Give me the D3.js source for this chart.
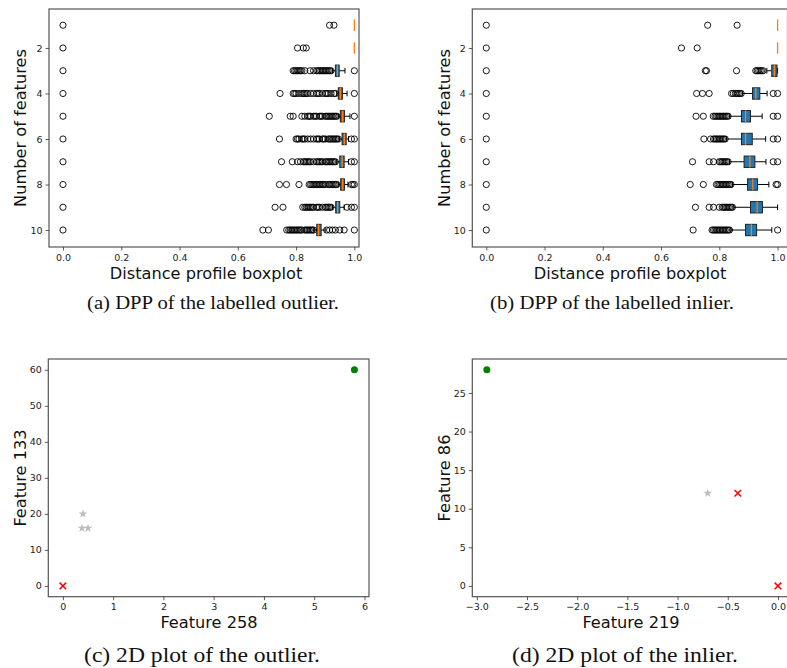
<!DOCTYPE html>
<html lang="en">
<head>
    <meta charset="UTF-8">
    <title>Distance profile plots</title>
    <style>
        body { margin: 0; background: #fff; }
        svg { display: block; }
    </style>
</head>
<body>
    <svg width="787" height="668"></svg>

    <script src="https://d3js.org/d3.v7.min.js"></script>
    <script>
        // ---- data ----
        var featureCounts = [1, 2, 3, 4, 5, 6, 7, 8, 9, 10];

        // (a) labelled outlier: whisker low, q1, median, q3, whisker high per row
        var outLo  = [1, 1, 0.925, 0.940, 0.945, 0.948, 0.940, 0.945, 0.925, 0.862];
        var outQ1  = [1, 1, 0.935, 0.945, 0.952, 0.958, 0.950, 0.953, 0.936, 0.871];
        var outMed = [1, 1, 0.942, 0.952, 0.960, 0.966, 0.958, 0.960, 0.943, 0.877];
        var outQ3  = [1, 1, 0.948, 0.959, 0.966, 0.972, 0.965, 0.966, 0.950, 0.886];
        var outHi  = [1, 1, 0.968, 0.975, 0.985, 0.980, 0.980, 0.978, 0.965, 0.900];
        var outFliers = [
            [0, 0.915, 0.930],
            [0, 0.805, 0.825, 0.835],
            [0, 0.790, 0.795, 0.800, 0.805, 0.810, 0.815, 0.820, 0.830, 0.848, 0.860, 0.870, 0.875, 0.880, 0.885, 0.890, 0.895, 0.900, 0.905, 0.910, 0.915, 0.920, 1.0],
            [0, 0.745, 0.790, 0.795, 0.800, 0.810, 0.820, 0.825, 0.830, 0.835, 0.840, 0.850, 0.860, 0.870, 0.875, 0.880, 0.890, 0.900, 0.905, 0.910, 0.920, 0.930, 0.935, 1.0],
            [0, 0.708, 0.780, 0.790, 0.820, 0.830, 0.840, 0.845, 0.850, 0.860, 0.865, 0.870, 0.880, 0.885, 0.890, 0.900, 0.905, 0.910, 0.915, 0.920, 0.925, 0.930, 0.935, 0.940, 1.0],
            [0, 0.743, 0.800, 0.805, 0.810, 0.820, 0.825, 0.830, 0.840, 0.850, 0.860, 0.870, 0.875, 0.880, 0.890, 0.895, 0.900, 0.910, 0.915, 0.920, 0.925, 0.930, 0.935, 0.940, 0.945, 0.990, 1.0],
            [0, 0.750, 0.787, 0.805, 0.815, 0.825, 0.830, 0.835, 0.840, 0.845, 0.850, 0.860, 0.870, 0.875, 0.880, 0.885, 0.890, 0.900, 0.905, 0.910, 0.915, 0.920, 0.925, 0.930, 0.935, 0.990, 1.0],
            [0, 0.743, 0.767, 0.810, 0.845, 0.850, 0.855, 0.860, 0.865, 0.870, 0.875, 0.880, 0.885, 0.890, 0.895, 0.900, 0.910, 0.915, 0.920, 0.925, 0.930, 0.935, 0.940, 0.990, 0.995, 1.0],
            [0, 0.728, 0.755, 0.823, 0.830, 0.835, 0.840, 0.845, 0.850, 0.855, 0.860, 0.870, 0.875, 0.880, 0.890, 0.900, 0.905, 0.910, 0.915, 0.920, 0.975, 0.990, 1.0],
            [0, 0.686, 0.705, 0.768, 0.775, 0.780, 0.785, 0.790, 0.795, 0.800, 0.805, 0.810, 0.815, 0.820, 0.830, 0.835, 0.840, 0.845, 0.850, 0.855, 0.860, 0.905, 0.915, 0.925, 0.935, 0.950, 0.965, 1.0]
        ];

        // (b) labelled inlier
        var inLo  = [1, 1, 0.963, 0.880, 0.836, 0.825, 0.835, 0.845, 0.850, 0.840];
        var inQ1  = [1, 1, 0.980, 0.914, 0.876, 0.876, 0.885, 0.897, 0.907, 0.890];
        var inMed = [1, 1, 0.989, 0.925, 0.890, 0.890, 0.905, 0.915, 0.930, 0.910];
        var inQ3  = [1, 1, 0.998, 0.939, 0.907, 0.913, 0.922, 0.931, 0.948, 0.928];
        var inHi  = [1, 1, 1.000, 0.964, 0.947, 0.959, 0.960, 0.970, 1.000, 0.980];
        var inFliers = [
            [0, 0.760, 0.861],
            [0, 0.670, 0.724],
            [0, 0.752, 0.756, 0.859, 0.925, 0.930, 0.935, 0.940, 0.945, 0.950],
            [0, 0.722, 0.742, 0.765, 0.842, 0.848, 0.855, 0.860, 0.865, 0.870, 0.875, 0.985, 1.0],
            [0, 0.720, 0.745, 0.779, 0.785, 0.790, 0.795, 0.800, 0.805, 0.810, 0.815, 0.820, 0.825, 0.830, 0.985, 1.0],
            [0, 0.747, 0.770, 0.780, 0.785, 0.790, 0.795, 0.800, 0.805, 0.810, 0.815, 0.820, 0.985, 1.0],
            [0, 0.708, 0.765, 0.780, 0.800, 0.805, 0.810, 0.815, 0.820, 0.825, 0.830, 0.985, 1.0],
            [0, 0.700, 0.745, 0.790, 0.795, 0.800, 0.805, 0.810, 0.815, 0.820, 0.825, 0.830, 0.835, 0.840, 0.995, 1.0],
            [0, 0.718, 0.765, 0.780, 0.800, 0.810, 0.815, 0.820, 0.825, 0.830, 0.835, 0.840, 0.845],
            [0, 0.710, 0.775, 0.780, 0.785, 0.790, 0.795, 0.800, 0.805, 0.810, 0.815, 0.820, 0.825, 0.830, 0.835, 1.0]
        ];

        var dppTicksX = [0, 0.2, 0.4, 0.6, 0.8, 1.0];
        var dppTicksY = [2, 4, 6, 8, 10];

        // (c) 2D plot of the outlier
        var cGreenX = [5.8], cGreenY = [60];
        var cStarX = [0.40, 0.38, 0.50], cStarY = [20, 16, 16];
        var cCrossX = [0], cCrossY = [0];
        var cTicksX = [0, 1, 2, 3, 4, 5, 6];
        var cTicksY = [0, 10, 20, 30, 40, 50, 60];

        // (d) 2D plot of the inlier
        var dGreenX = [-2.9], dGreenY = [28];
        var dStarX = [-0.7], dStarY = [12];
        var dCrossX = [-0.4, 0], dCrossY = [12, 0];
        var dTicksX = [-3.0, -2.5, -2.0, -1.5, -1.0, -0.5, 0.0];
        var dTicksY = [0, 5, 10, 15, 20, 25];

        var svg = d3.select('svg');
        var sans = 'DejaVu Sans, sans-serif',
            serif = 'Liberation Serif, serif';

        function styleAxis(g) {
            g.select('.domain').remove();
            g.selectAll('line').attr('stroke', '#333').attr('stroke-width', 0.8);
            g.selectAll('text').attr('font-family', sans).attr('font-size', 9.5).attr('fill', '#222');
        }

        function frame(box) {
            svg.append('rect')
                .attr('x', box.left).attr('y', box.top)
                .attr('width', box.right - box.left).attr('height', box.bottom - box.top)
                .attr('fill', 'none').attr('stroke', '#555').attr('stroke-width', 1.2);
        }

        function axes(box, x, y, xt, yt, fmtX, fmtY) {
            var gx = svg.append('g').attr('transform', 'translate(0,' + box.bottom + ')')
                .call(d3.axisBottom(x).tickValues(xt).tickFormat(fmtX).tickSize(3.5).tickPadding(3.5));
            styleAxis(gx);
            var gy = svg.append('g').attr('transform', 'translate(' + box.left + ',0)')
                .call(d3.axisLeft(y).tickValues(yt).tickFormat(fmtY).tickSize(3.5).tickPadding(3));
            styleAxis(gy);
        }

        function label(text, x, y, rotate, size, family, width) {
            var t = svg.append('text')
                .attr('transform', 'translate(' + x + ',' + y + ')' + (rotate ? ' rotate(-90)' : ''))
                .attr('text-anchor', 'middle')
                .attr('font-family', family || sans)
                .attr('font-size', size)
                .attr('fill', '#111')
                .text(text);
            if (width) t.attr('textLength', width).attr('lengthAdjust', 'spacingAndGlyphs');
        }

        // boxplot panel
        function dppPanel(box, lo, q1, med, q3, hi, fliers, xMax) {
            var x = d3.scaleLinear().domain([-0.048, xMax]).range([box.left, box.right]);
            var y = d3.scaleLinear().domain([0.287, 10.746]).range([box.top, box.bottom]);
            var half = (y(1.25) - y(1)),  // box width 0.5
                cap = half / 2;

            var clip = 'clip' + Math.round(box.left);
            svg.append('clipPath').attr('id', clip).append('rect')
                .attr('x', box.left).attr('y', box.top)
                .attr('width', box.right - box.left).attr('height', box.bottom - box.top);
            var g = svg.append('g').attr('clip-path', 'url(#' + clip + ')');

            featureCounts.forEach(function(n, i) {
                var cy = y(n);
                var spread = hi[i] > lo[i];
                // whiskers + caps (nothing to draw when the whole box sits on one value)
                if (spread) {
                    g.append('line').attr('x1', x(lo[i])).attr('x2', x(q1[i])).attr('y1', cy).attr('y2', cy)
                        .attr('stroke', '#000').attr('stroke-width', 1);
                    g.append('line').attr('x1', x(q3[i])).attr('x2', x(hi[i])).attr('y1', cy).attr('y2', cy)
                        .attr('stroke', '#000').attr('stroke-width', 1);
                    [lo[i], hi[i]].forEach(function(v) {
                        g.append('line').attr('x1', x(v)).attr('x2', x(v)).attr('y1', cy - cap).attr('y2', cy + cap)
                            .attr('stroke', '#000').attr('stroke-width', 1);
                    });
                }
                if (q3[i] > q1[i]) {
                    g.append('rect')
                        .attr('x', x(q1[i])).attr('y', cy - half)
                        .attr('width', x(q3[i]) - x(q1[i])).attr('height', 2 * half)
                        .attr('fill', '#1f77b4').attr('stroke', '#222').attr('stroke-width', 1);
                }
                g.append('line').attr('x1', x(med[i])).attr('x2', x(med[i]))
                    .attr('y1', cy - half).attr('y2', cy + half)
                    .attr('stroke', '#ff7f0e').attr('stroke-width', 1.3);
                g.selectAll(null).data(fliers[i]).enter().append('circle')
                    .attr('cx', function(d) { return x(d); })
                    .attr('cy', cy)
                    .attr('r', 3.1)
                    .attr('fill', 'none')
                    .attr('stroke', '#000')
                    .attr('stroke-width', 0.9);
            });

            frame(box);
            axes(box, x, y, dppTicksX, dppTicksY, d3.format('.1f'), d3.format('d'));
        }

        // scatter panel
        function scatterPanel(box, xDom, yDom, xt, yt, fmtX, gx, gy, sx, sy, rx, ry) {
            var x = d3.scaleLinear().domain(xDom).range([box.left, box.right]);
            var y = d3.scaleLinear().domain(yDom).range([box.bottom, box.top]);
            var g = svg.append('g');

            g.selectAll(null).data(d3.zip(sx, sy)).enter().append('path')
                .attr('d', d3.symbol().type(d3.symbolStar).size(24))
                .attr('transform', function(d) { return 'translate(' + x(d[0]) + ',' + y(d[1]) + ')'; })
                .attr('fill', '#bdbdbd');

            g.selectAll(null).data(d3.zip(rx, ry)).enter().append('path')
                .attr('d', d3.symbol().type(d3.symbolTimes).size(30))
                .attr('transform', function(d) { return 'translate(' + x(d[0]) + ',' + y(d[1]) + ')'; })
                .attr('fill', 'none').attr('stroke', '#ff0000').attr('stroke-width', 1.5);

            g.selectAll(null).data(d3.zip(gx, gy)).enter().append('circle')
                .attr('cx', function(d) { return x(d[0]); })
                .attr('cy', function(d) { return y(d[1]); })
                .attr('r', 3.5)
                .attr('fill', '#008000');

            frame(box);
            axes(box, x, y, xt, yt, fmtX, d3.format('d'));
        }

        var boxA = {left: 49, right: 359, top: 9, bottom: 247},
            boxB = {left: 472.3, right: 787.5, top: 9, bottom: 247},
            boxC = {left: 48.3, right: 369, top: 359, bottom: 596.7},
            boxD = {left: 472.3, right: 792.5, top: 359, bottom: 596.7};

        dppPanel(boxA, outLo, outQ1, outMed, outQ3, outHi, outFliers, 1.016);
        dppPanel(boxB, inLo, inQ1, inMed, inQ3, inHi, inFliers, 1.034);

        scatterPanel(boxC, [-0.29, 6.09], [-3, 63], cTicksX, cTicksY, d3.format('d'),
            cGreenX, cGreenY, cStarX, cStarY, cCrossX, cCrossY);
        scatterPanel(boxD, [-3.045, 0.145], [-1.4, 29.4], dTicksX, dTicksY, d3.format('.1f'),
            dGreenX, dGreenY, dStarX, dStarY, dCrossX, dCrossY);

        // axis titles
        label('Distance profile boxplot', 206, 279, false, 16.2);
        label('Distance profile boxplot', 630, 279, false, 16.2);
        label('Number of features', 25.5, 128, true, 16.2);
        label('Number of features', 450, 128, true, 16.2);
        label('Feature 258', 209, 628, false, 16.2);
        label('Feature 219', 631, 628, false, 16.2);
        label('Feature 133', 25.5, 478, true, 16.2);
        label('Feature 86', 450, 478, true, 16.2);

        // subfigure captions
        label('(a) DPP of the labelled outlier.', 213, 309, false, 19, serif, 252);
        label('(b) DPP of the labelled inlier.', 612, 309, false, 19, serif, 244);
        label('(c) 2D plot of the outlier.', 202, 662, false, 21, serif, 236);
        label('(d) 2D plot of the inlier.', 625, 662, false, 21, serif, 226);
    </script>
</body>
</html>
